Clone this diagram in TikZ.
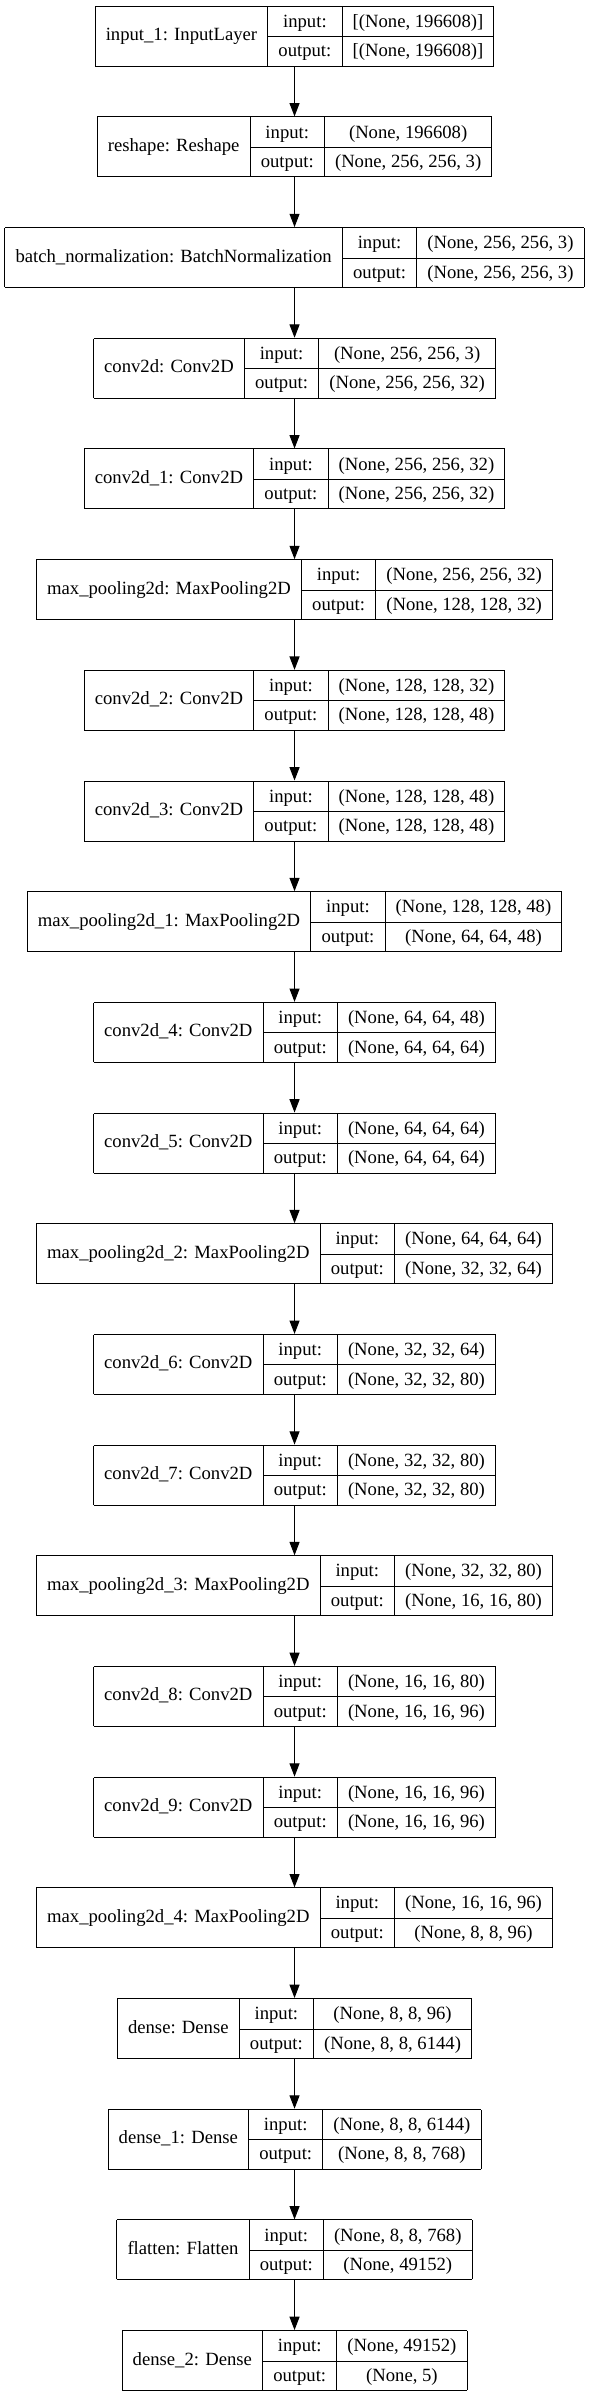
\documentclass[tikz,border=0pt]{standalone}
\usepackage{fontspec}
\setmainfont{Liberation Serif}
\usepackage{multirow}
\usetikzlibrary{arrows.meta,positioning}

\setlength{\arrayrulewidth}{0.75pt}
\setlength{\tabcolsep}{8pt}
\renewcommand{\arraystretch}{1.317}

% one record: layer name | input:/output: | shapes
\newcommand{\layertab}[3]{%
  \begin{tabular}{|c|c|c|}\hline
    \multirow{2}{*}{#1} & input: & #2\\\cline{2-3}
                        & output: & #3\\\hline
  \end{tabular}}

\begin{document}
\begin{tikzpicture}[
    node distance=37.26pt,
    layer/.style={
        inner sep=0pt,
        outer sep=0pt,
        font=\fontsize{14}{16.8}\selectfont
    },
    arrow/.style={-{Triangle[length=10pt,width=7.5pt]},line width=0.8pt}
]
\useasboundingbox (0,0) rectangle (441.75pt,-1797.75pt);

\node[layer, anchor=north] (input) at (220.9pt,-4.3pt)
{\layertab{input\_1: InputLayer}{[(None, 196608)]}{[(None, 196608)]}};
\node[layer, below=of input] (reshape)
{\layertab{reshape: Reshape}{(None, 196608)}{(None, 256, 256, 3)}};
\node[layer, below=of reshape] (bnorm)
{\layertab{batch\_normalization: BatchNormalization}{(None, 256, 256, 3)}{(None, 256, 256, 3)}};
\node[layer, below=of bnorm] (conv0)
{\layertab{conv2d: Conv2D}{(None, 256, 256, 3)}{(None, 256, 256, 32)}};
\node[layer, below=of conv0] (conv1)
{\layertab{conv2d\_1: Conv2D}{(None, 256, 256, 32)}{(None, 256, 256, 32)}};
\node[layer, below=of conv1] (pool0)
{\layertab{max\_pooling2d: MaxPooling2D}{(None, 256, 256, 32)}{(None, 128, 128, 32)}};
\node[layer, below=of pool0] (conv2)
{\layertab{conv2d\_2: Conv2D}{(None, 128, 128, 32)}{(None, 128, 128, 48)}};
\node[layer, below=of conv2] (conv3)
{\layertab{conv2d\_3: Conv2D}{(None, 128, 128, 48)}{(None, 128, 128, 48)}};
\node[layer, below=of conv3] (pool1)
{\layertab{max\_pooling2d\_1: MaxPooling2D}{(None, 128, 128, 48)}{(None, 64, 64, 48)}};
\node[layer, below=of pool1] (conv4)
{\layertab{conv2d\_4: Conv2D}{(None, 64, 64, 48)}{(None, 64, 64, 64)}};
\node[layer, below=of conv4] (conv5)
{\layertab{conv2d\_5: Conv2D}{(None, 64, 64, 64)}{(None, 64, 64, 64)}};
\node[layer, below=of conv5] (pool2)
{\layertab{max\_pooling2d\_2: MaxPooling2D}{(None, 64, 64, 64)}{(None, 32, 32, 64)}};
\node[layer, below=of pool2] (conv6)
{\layertab{conv2d\_6: Conv2D}{(None, 32, 32, 64)}{(None, 32, 32, 80)}};
\node[layer, below=of conv6] (conv7)
{\layertab{conv2d\_7: Conv2D}{(None, 32, 32, 80)}{(None, 32, 32, 80)}};
\node[layer, below=of conv7] (pool3)
{\layertab{max\_pooling2d\_3: MaxPooling2D}{(None, 32, 32, 80)}{(None, 16, 16, 80)}};
\node[layer, below=of pool3] (conv8)
{\layertab{conv2d\_8: Conv2D}{(None, 16, 16, 80)}{(None, 16, 16, 96)}};
\node[layer, below=of conv8] (conv9)
{\layertab{conv2d\_9: Conv2D}{(None, 16, 16, 96)}{(None, 16, 16, 96)}};
\node[layer, below=of conv9] (pool4)
{\layertab{max\_pooling2d\_4: MaxPooling2D}{(None, 16, 16, 96)}{(None, 8, 8, 96)}};
\node[layer, below=of pool4] (dense0)
{\layertab{dense: Dense}{(None, 8, 8, 96)}{(None, 8, 8, 6144)}};
\node[layer, below=of dense0] (dense1)
{\layertab{dense\_1: Dense}{(None, 8, 8, 6144)}{(None, 8, 8, 768)}};
\node[layer, below=of dense1] (flatten)
{\layertab{flatten: Flatten}{(None, 8, 8, 768)}{(None, 49152)}};
\node[layer, below=of flatten] (dense2)
{\layertab{dense\_2: Dense}{(None, 49152)}{(None, 5)}};

\draw[arrow] (input) -- (reshape);
\draw[arrow] (reshape) -- (bnorm);
\draw[arrow] (bnorm) -- (conv0);
\draw[arrow] (conv0) -- (conv1);
\draw[arrow] (conv1) -- (pool0);
\draw[arrow] (pool0) -- (conv2);
\draw[arrow] (conv2) -- (conv3);
\draw[arrow] (conv3) -- (pool1);
\draw[arrow] (pool1) -- (conv4);
\draw[arrow] (conv4) -- (conv5);
\draw[arrow] (conv5) -- (pool2);
\draw[arrow] (pool2) -- (conv6);
\draw[arrow] (conv6) -- (conv7);
\draw[arrow] (conv7) -- (pool3);
\draw[arrow] (pool3) -- (conv8);
\draw[arrow] (conv8) -- (conv9);
\draw[arrow] (conv9) -- (pool4);
\draw[arrow] (pool4) -- (dense0);
\draw[arrow] (dense0) -- (dense1);
\draw[arrow] (dense1) -- (flatten);
\draw[arrow] (flatten) -- (dense2);

\end{tikzpicture}
\end{document}
